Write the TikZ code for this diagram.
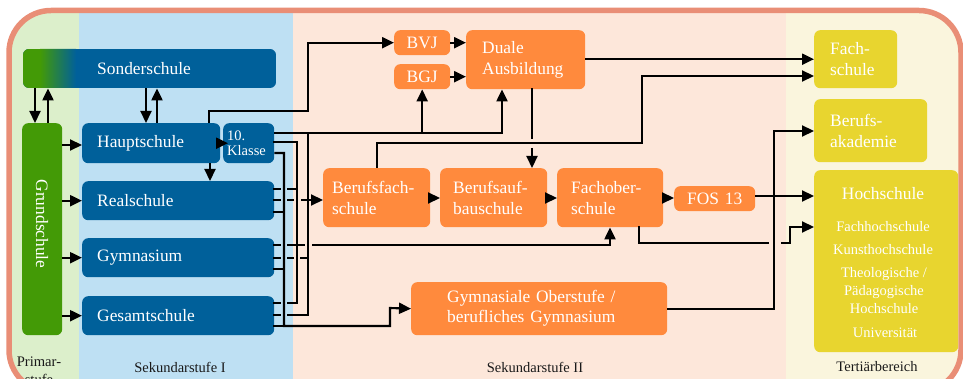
\documentclass[tikz,border=0pt]{standalone}
\usepackage{fontspec}
\setmainfont{Liberation Serif}
\usetikzlibrary{arrows.meta}
\definecolor{cborder}{RGB}{233,142,118}
\definecolor{bgreen}{RGB}{220,239,203}
\definecolor{bblue}{RGB}{190,224,243}
\definecolor{bpeach}{RGB}{253,231,218}
\definecolor{bcream}{RGB}{250,245,221}
\definecolor{nblue}{RGB}{0,96,154}
\definecolor{ngreen}{RGB}{67,154,6}
\definecolor{norange}{RGB}{255,138,61}
\definecolor{nyellow}{RGB}{232,213,47}
\newcommand{\bigf}{\fontsize{17.4}{21}\selectfont}
\newcommand{\smf}{\fontsize{14.5}{15}\selectfont}
\begin{document}
\begin{tikzpicture}[x=1pt,y=-1pt,
 box/.style={rounded corners=6pt, inner ysep=0pt, text=white, font=\bigf, anchor=north west, align=left},
 bluebox/.style={box, fill=nblue},
 orbox/.style={box, fill=norange},
 yelbox/.style={box, fill=nyellow},
 conn/.style={line width=2.1pt, draw=black, line cap=rect},
 arr/.style={line width=2.1pt, draw=black, -{Triangle[length=12pt,width=11pt]}},
 lab/.style={font=\smf, text=black!90},
 wt/.style={text=white, inner sep=0pt}
]
\useasboundingbox (0,0) rectangle (963,379);
\clip (0,0) rectangle (963,379);
% background bands
\begin{scope}
\clip[rounded corners=42pt] (9,10.5) rectangle (961,392);
\fill[bgreen] (0,0) rectangle (79,400);
\fill[bblue] (79,0) rectangle (293,400);
\fill[bpeach] (293,0) rectangle (786,400);
\fill[bcream] (786,0) rectangle (970,400);
\end{scope}
\draw[cborder, line width=5.5pt, rounded corners=42pt] (9,10.5) rectangle (961,392);

% Sonderschule background with green-to-blue gradient
\begin{scope}
\clip[rounded corners=6pt] (23,49) rectangle (276,88);
\fill[nblue] (23,49) rectangle (276,88);
\fill[ngreen] (23,49) rectangle (40.5,88);
\shade[left color=ngreen, right color=nblue] (40,49) rectangle (76,88);
\end{scope}

% Sekundarstufe I
\node[box, minimum width=253pt, minimum height=39pt, inner xsep=74pt, text width=105pt] (sonder) at (23,49) {Sonderschule};
\node[box, fill=ngreen, minimum width=40pt, minimum height=212pt] (grund) at (22,123) {};
\node[wt, font=\bigf, rotate=-90] (grundtxt) at (42,224) {Grundschule};
\node[bluebox, minimum width=138pt, minimum height=40pt, inner xsep=15pt, text width=108pt] (haupt) at (82,123) {Hauptschule};
\node[bluebox, font=\smf, minimum width=51pt, minimum height=40pt, inner xsep=4pt, text width=43pt] (klasse) at (223,123) {10.\\Klasse};
\node[bluebox, minimum width=192pt, minimum height=39pt, inner xsep=15pt, text width=162pt] (real) at (82,181) {Realschule};
\node[bluebox, minimum width=192pt, minimum height=39pt, inner xsep=15pt, text width=162pt] (gym) at (82,238) {Gymnasium};
\node[bluebox, minimum width=192pt, minimum height=39pt, inner xsep=15pt, text width=162pt] (gesamt) at (82,296) {Gesamtschule};

% Sekundarstufe II
\node[orbox, align=center, minimum width=56pt, minimum height=25pt, inner xsep=2pt, text width=52pt] (bvj) at (394,30) {BVJ};
\node[orbox, align=center, minimum width=56pt, minimum height=25pt, inner xsep=2pt, text width=52pt] (bgj) at (394,64) {BGJ};
\node[orbox, minimum width=119pt, minimum height=59pt, inner xsep=16pt, text width=87pt] (duale) at (466,30) {Duale\\Ausbildung};
\node[orbox, minimum width=107pt, minimum height=59pt, inner xsep=9pt, text width=89pt] (bfs) at (323,168) {Berufsfach-\\schule};
\node[orbox, minimum width=107pt, minimum height=59pt, inner xsep=13pt, text width=81pt] (bas) at (440,168) {Berufsauf-\\bauschule};
\node[orbox, minimum width=106pt, minimum height=59pt, inner xsep=14pt, text width=78pt] (fos) at (557,168) {Fachober-\\schule};
\node[orbox, align=center, minimum width=81pt, minimum height=25pt, inner xsep=2pt, text width=77pt] (fos13) at (674,186) {FOS 13};
\node[orbox, font=\fontsize{17.4}{20}\selectfont, minimum width=256pt, minimum height=53pt, inner xsep=36pt, text width=184pt] (gymo) at (411,282) {Gymnasiale Oberstufe /\\berufliches Gymnasium};

% Tertiaerbereich
\node[yelbox, minimum width=83pt, minimum height=58pt, inner xsep=16pt, text width=51pt] (fach) at (814,30) {Fach-\\schule};
\node[yelbox, minimum width=113pt, minimum height=63pt, inner xsep=16pt, text width=81pt] (bak) at (814,99) {Berufs-\\akademie};
\node[yelbox, minimum width=144pt, minimum height=182pt] (hoch) at (814,170) {};
\node[wt, font=\bigf] (ht0) at (883,194) {Hochschule};
\node[wt, font=\smf] (ht1) at (883,227) {Fachhochschule};
\node[wt, font=\smf] (ht2) at (883,250) {Kunsthochschule};
\node[wt, font=\fontsize{14.5}{18}\selectfont, align=center] (ht3) at (884,291) {Theologische /\\Pädagogische\\Hochschule};
\node[wt, font=\smf] (ht4) at (885,333) {Universität};

% stage labels
\node[lab, align=center, font=\fontsize{14.6}{18}\selectfont] (lprim) at (39,371) {Primar-\\stufe};
\node[lab] (lsek1) at (180,367) {Sekundarstufe I};
\node[lab] (lsek2) at (535,367) {Sekundarstufe II};
\node[lab] (lter) at (877,367) {Tertiärbereich};

% connectors: Primar / Sek I
\draw[arr] (sonder.south -| 35,0) -- (grund.north -| 35,0);
\draw[arr] (grund.north -| 48,0) -- (sonder.south -| 48,0);
\draw[arr] (sonder.south -| 146,0) -- (haupt.north -| 146,0);
\draw[arr] (haupt.north -| 157,0) -- (sonder.south -| 157,0);
\draw[arr] (grund.east |- 0,145) -- (haupt.west |- 0,145);
\draw[arr] (grund.east |- real.west) -- (real.west);
\draw[arr] (grund.east |- gym.west) -- (gym.west);
\draw[arr] (grund.east |- gesamt.west) -- (gesamt.west);
\draw[arr, shorten >=-5pt] (haupt.east) -- (klasse.west);
\draw[arr] (haupt.south -| 210,0) -- (real.north -| 210,0);
\draw[arr] (haupt.north -| 209,0) |- (308,111) |- (bvj.west);

% collector V3 (x=308)
\draw[arr] (klasse.east |- 0,133) -| (duale.south -| 502,0);
\draw[arr] (bgj.south |- 0,133) -- (bgj.south);
\draw[conn] (308,133) -- (308,315) -- (288,315);
\draw[conn] (gesamt.east |- 0,315) -- (280,315);
% collector V2 (x=297)
\draw[conn] (klasse.east |- 0,142) -| (297,303) -- (288,303);
\draw[conn] (gesamt.east |- 0,303) -- (280,303);
% collector V1 (x=284)
\draw[arr] (klasse.east |- 0,153) -| (284,326) -| (390,308) -- (gymo.west);
\draw[conn] (gesamt.east |- 0,326) -- (284,326);
% Realschule
\draw[conn] (real.east |- 0,189) -- (280,189);
\draw[conn] (288,189) -- (297,189);
\draw[conn] (real.east |- 0,200) -- (280,200);
\draw[conn] (288,200) -- (293,200);
\draw[arr] (301,200) -- (bfs.west |- 0,200);
\draw[conn] (real.east |- 0,212) -- (284,212);
% Gymnasium
\draw[conn] (gym.east |- 0,245) -- (280,245);
\draw[conn] (288,245) -- (304,245);
\draw[arr] (312,245) -| (fos.south -| 610,0);
\draw[conn] (gym.east |- 0,258) -- (280,258);
\draw[conn] (288,258) -- (293,258);
\draw[conn] (301,258) -- (308,258);
\draw[conn] (gym.east |- 0,269) -- (284,269);

% Sek II
\draw[arr] (bvj.east) -- (bvj.east -| duale.west);
\draw[arr] (bgj.east) -- (bgj.east -| duale.west);
\draw[arr] (duale.east |- fach.west) -- (fach.west);
\draw[conn] (duale.south -| 532,0) -- (532,138);
\draw[arr] (532,148) -- (bas.north -| 532,0);
\draw[arr] (bfs.north -| 377,0) |- (642,143) |- (fach.west |- 0,76);
\draw[arr] (bfs.east |- 0,198) -- (bas.west |- 0,198);
\draw[arr] (bas.east |- 0,198) -- (fos.west |- 0,198);
\draw[arr] (fos.east |- 0,198) -- (fos13.west |- 0,198);
\draw[arr] (fos13.east |- 0,196) -- (hoch.west |- 0,196);
\draw[arr] (gymo.east) -| (774,131) -- (bak.west |- 0,131);
\draw[conn] (fos.south -| 639,0) |- (768,243);
\draw[arr] (781,243) -| (790,227) -- (hoch.west |- 0,227);
\end{tikzpicture}
\end{document}
